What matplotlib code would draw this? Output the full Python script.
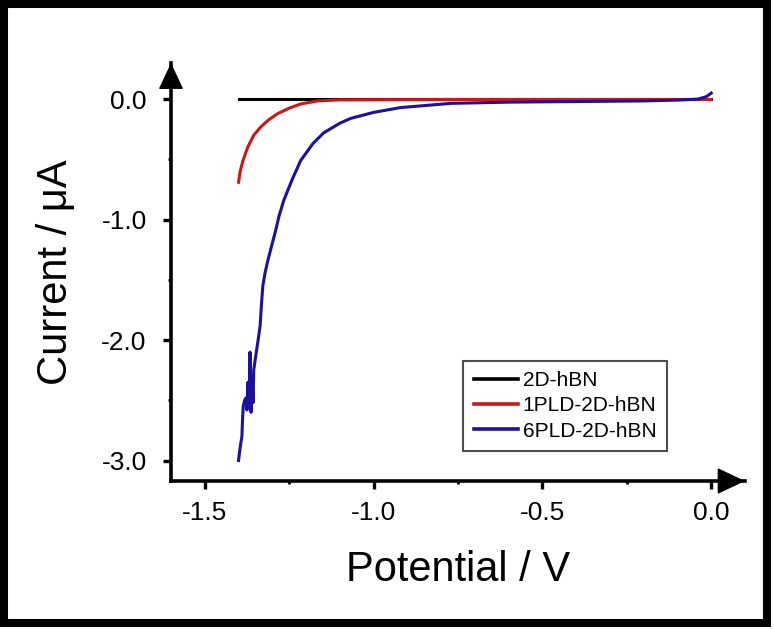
import matplotlib
matplotlib.use('Agg')
import matplotlib.pyplot as plt
from matplotlib.patches import Rectangle
from matplotlib.ticker import MultipleLocator

# data (potential in V, current in uA)
labels = ['2D-hBN', '1PLD-2D-hBN', '6PLD-2D-hBN']
colors = ['#000000', '#d01515', '#1c10a0']

v_black = [-1.40, 0.0]
i_black = [0.0, 0.0]

v_red = [-1.400, -1.395, -1.388, -1.373, -1.355, -1.334, -1.310, -1.284, -1.250,
         -1.216, -1.166, -1.100, -0.800, -0.400, 0.000]
i_red = [-0.69, -0.60, -0.52, -0.40, -0.30, -0.23, -0.17, -0.12, -0.075,
         -0.04, -0.015, -0.006, -0.003, -0.003, -0.003]

v_blue = [-1.400, -1.397, -1.393, -1.390, -1.388, -1.386, -1.382, -1.378, -1.375,
          -1.372, -1.369, -1.366, -1.363, -1.360, -1.357, -1.355, -1.350, -1.342,
          -1.336, -1.332, -1.328, -1.322, -1.315, -1.305, -1.290, -1.280, -1.266,
          -1.240, -1.216, -1.180, -1.148, -1.100, -1.068, -1.000, -0.920, -0.770,
          -0.600, -0.400, -0.200, -0.100, -0.040, -0.015, 0.000]
i_blue = [-3.00, -2.93, -2.85, -2.80, -2.65, -2.55, -2.50, -2.48, -2.58,
          -2.35, -2.56, -2.10, -2.60, -2.30, -2.52, -2.25, -2.15, -2.00,
          -1.88, -1.70, -1.55, -1.45, -1.36, -1.25, -1.09, -0.97, -0.84,
          -0.66, -0.51, -0.37, -0.28, -0.20, -0.16, -0.11, -0.07, -0.035,
          -0.025, -0.02, -0.015, -0.008, 0.0, 0.02, 0.05]

plt.rcParams['font.family'] = ['Liberation Sans', 'DejaVu Sans']
plt.rcParams['axes.unicode_minus'] = False

W, H = 774, 629
fig = plt.figure(figsize=(W / 100, H / 100), dpi=100)
ax = fig.add_axes([171 / W, (H - 481) / H, (745 - 171) / W, (481 - 63) / H])

ax.plot(v_black, i_black, color=colors[0], lw=2.2, label=labels[0])
ax.plot(v_red, i_red, color=colors[1], lw=2.2, label=labels[1])
ax.plot(v_blue, i_blue, color=colors[2], lw=2.2, label=labels[2])

ax.set_xlim(-1.6, 0.1)
ax.set_ylim(-3.17, 0.3)

for s in ['top', 'right']:
    ax.spines[s].set_visible(False)
for s in ['left', 'bottom']:
    ax.spines[s].set_linewidth(2.6)

# arrow heads on the axes
ax.annotate('', xy=(1.0, 0), xytext=(0.955, 0), xycoords='axes fraction',
            arrowprops=dict(arrowstyle='-|>,head_length=1.8,head_width=0.85',
                            color='k', lw=1, shrinkA=0, shrinkB=0))
ax.annotate('', xy=(0, 1.0), xytext=(0, 0.945), xycoords='axes fraction',
            arrowprops=dict(arrowstyle='-|>,head_length=1.7,head_width=0.8',
                            color='k', lw=1, shrinkA=0, shrinkB=0))

ax.set_xticks([-1.5, -1.0, -0.5, 0.0])
ax.set_yticks([0.0, -1.0, -2.0, -3.0])
ax.set_xticklabels(['-1.5', '-1.0', '-0.5', '0.0'])
ax.set_yticklabels(['0.0', '-1.0', '-2.0', '-3.0'])
ax.xaxis.set_minor_locator(MultipleLocator(0.25))
ax.yaxis.set_minor_locator(MultipleLocator(0.5))
ax.tick_params(which='major', direction='out', length=5.5, width=2.4,
               labelsize=19, pad=12)
ax.tick_params(which='minor', direction='out', length=2.5, width=2.0)
ax.tick_params(axis='x', which='major', pad=9)

ax.set_xlabel('Potential / V', fontsize=30, labelpad=18)
ax.set_ylabel('Current / μA', fontsize=30, labelpad=18)

leg = ax.legend(loc='lower right', bbox_to_anchor=(667 / W, (H - 451) / H),
                bbox_transform=fig.transFigure, fontsize=15, frameon=True,
                fancybox=False, handlelength=2.1, handletextpad=0.25,
                labelspacing=0.3, borderpad=0.5, borderaxespad=0)
leg.get_frame().set_edgecolor('#222222')
leg.get_frame().set_linewidth(1.5)
for line in leg.get_lines():
    line.set_linewidth(2.6)

# black frame round the whole picture
fig.patches.append(Rectangle((4 / W, (H - 622.5) / H), 763 / W, 618.5 / H,
                             transform=fig.transFigure, fill=False,
                             edgecolor='black', linewidth=5.8))

fig.savefig('out.png', dpi=100)
